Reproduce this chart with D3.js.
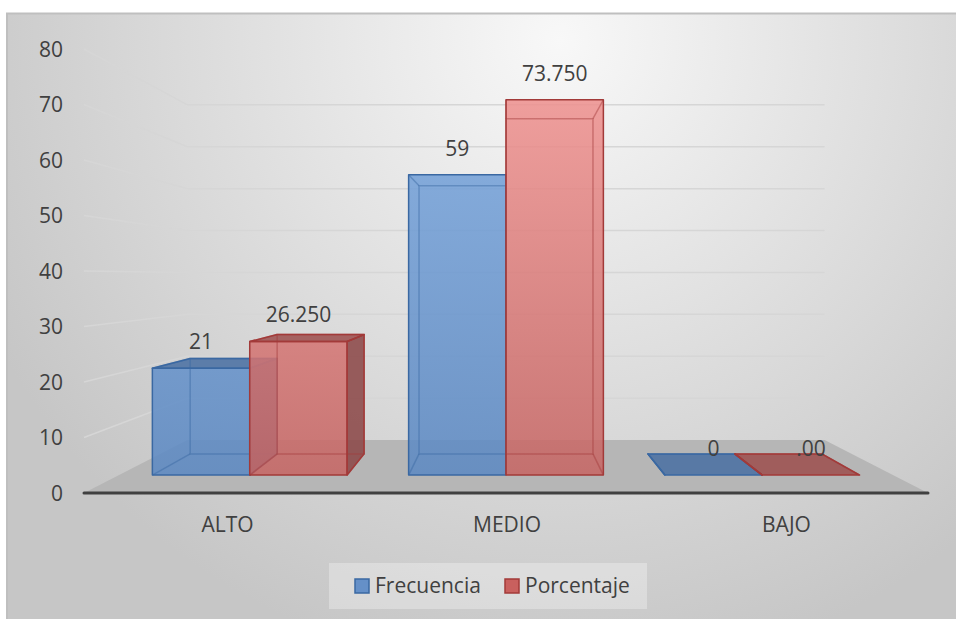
<!DOCTYPE html>
<html>
<head>
<meta charset="utf-8">
<script src="https://cdn.jsdelivr.net/npm/d3@7"></script>
<style>
  html, body { margin: 0; background: #fff; overflow: hidden; }
  svg { display: block; }
  text { font-family: "Open Sans", sans-serif; fill: #404040; }
</style>
</head>
<body>
<div class="chart3d"></div>
<script>
const categories = ["ALTO", "MEDIO", "BAJO"];
const seriesNames = ["Frecuencia", "Porcentaje"];
const frecuencia = [21, 59, 0];
const porcentaje = [26.25, 73.75, 0];
const frecuenciaLabels = ["21", "59", "0"];
const porcentajeLabels = ["26.250", "73.750", ".00"];
const yTicks = [0, 10, 20, 30, 40, 50, 60, 70, 80];

const width = 956, height = 619;
const vp = {x: 506, y: 277}; // vanishing point of the perspective

const svg = d3.select(".chart3d").append("svg")
    .attr("width", width)
    .attr("height", height);

const defs = svg.append("defs");
const bg = defs.append("radialGradient").attr("id", "bg")
    .attr("gradientUnits", "userSpaceOnUse")
    .attr("cx", 560).attr("cy", 40).attr("r", 640);
bg.append("stop").attr("offset", 0).attr("stop-color", "#f8f8f8");
bg.append("stop").attr("offset", 1).attr("stop-color", "#c6c6c6");

const grads = [
    {id: "gBlue", top: "#7ba8df", bottom: "#5a87c1"},
    {id: "gRed", top: "#f29593", bottom: "#c46361"}
];
grads.forEach(g => {
    const lg = defs.append("linearGradient").attr("id", g.id)
        .attr("gradientUnits", "userSpaceOnUse")
        .attr("x1", 0).attr("x2", 0).attr("y1", 60).attr("y2", 493);
    lg.append("stop").attr("offset", 0).attr("stop-color", g.top);
    lg.append("stop").attr("offset", 1).attr("stop-color", g.bottom);
});

const styles = [
    {front: "url(#gBlue)", top: "#486fa2", side: "#3f6494", edge: "#3a68a2"},
    {front: "url(#gRed)", top: "#9c4e4d", side: "#8a4646", edge: "#a23a39"}
];

svg.append("rect")
    .attr("x", 7).attr("y", 13.5)
    .attr("width", 980).attr("height", 640)
    .attr("fill", "url(#bg)")
    .attr("stroke", "#bfbfbf").attr("stroke-width", 2);

// scales on the front plane
const y = d3.scaleLinear().domain([0, 80]).range([493, 49]);
const x0 = d3.scaleBand().domain(categories).range([84, 928])
    .paddingInner(0.24).paddingOuter(0.13);
const x1 = d3.scaleBand().domain(seriesNames).range([0, x0.bandwidth()]);
const depth = d3.scaleLinear().domain([0, 1]).range([1, 0.755]);

const proj = (X, Y, z) => {
    const s = depth(z);
    return [vp.x + (X - vp.x) * s, vp.y + (Y - vp.y) * s];
};
const line = d3.line();

// floor
const [fx0, fx1] = x0.range();
svg.append("path")
    .attr("d", line([proj(fx0, y(0), 0), proj(fx1, y(0), 0), proj(fx1, y(0), 1), proj(fx0, y(0), 1)]) + "Z")
    .attr("fill", "#b6b6b6");

// gridlines: side wall then back wall
const grid = svg.append("g").attr("fill", "none")
    .attr("stroke", "#d6d6d6").attr("stroke-width", 1.5);
yTicks.filter(t => t > 0).forEach(t => {
    grid.append("path").attr("d", line([proj(fx0, y(t), 0), proj(fx0, y(t), 1), proj(fx1, y(t), 1)]));
});

// axis line
svg.append("line")
    .attr("x1", fx0).attr("x2", fx1)
    .attr("y1", y(0)).attr("y2", y(0))
    .attr("stroke", "#404040").attr("stroke-width", 3)
    .attr("stroke-linecap", "round");

// y tick labels
svg.append("g").selectAll("text").data(yTicks).enter().append("text")
    .attr("x", 63).attr("y", d => y(d) + 2)
    .attr("text-anchor", "end").attr("dominant-baseline", "middle")
    .style("font-size", "21px")
    .text(d => d);

// category labels
svg.append("g").selectAll("text").data(categories).enter().append("text")
    .attr("x", d => x0(d) + x0.bandwidth() / 2 + 1)
    .attr("y", 526)
    .attr("text-anchor", "middle").attr("dominant-baseline", "middle")
    .style("font-size", "21px")
    .text(d => d);

// bars
const zF = 0.339, zB = 0.739;
const bars = [];
categories.forEach((c, i) => {
    [frecuencia[i], porcentaje[i]].forEach((v, k) => {
        bars.push({cat: c, series: seriesNames[k], k: k, v: v,
            label: k === 0 ? frecuenciaLabels[i] : porcentajeLabels[i]});
    });
});

const barG = svg.append("g");
bars.forEach(b => {
    const X0 = x0(b.cat) + x1(b.series), X1 = X0 + x1.bandwidth();
    const Y0 = y(0), Y1 = y(b.v);
    const st = styles[b.k];
    const P = (X, Y, z) => proj(X, Y, z);
    const front = [P(X0, Y1, zF), P(X1, Y1, zF), P(X1, Y0, zF), P(X0, Y0, zF)];
    const back = [P(X0, Y1, zB), P(X1, Y1, zB), P(X1, Y0, zB), P(X0, Y0, zB)];
    const top = [front[0], front[1], back[1], back[0]];
    const right = [front[1], back[1], back[2], front[2]];
    const left = [front[0], back[0], back[3], front[3]];
    const g = barG.append("g");
    const faces = [];
    if (Y1 > vp.y) faces.push({pts: top, fill: st.top});
    if (X1 < vp.x) faces.push({pts: right, fill: st.side});
    if (X0 > vp.x) faces.push({pts: left, fill: st.side});
    if (b.v > 0) faces.push({pts: front, fill: st.front});
    faces.forEach(f => g.append("path")
        .attr("d", line(f.pts) + "Z")
        .attr("fill", f.fill).attr("fill-opacity", 0.86));
    // edges seen through the glass
    const edges = [back, [front[0], back[0]], [front[1], back[1]], [front[2], back[2]], [front[3], back[3]]];
    edges.forEach((e, j) => g.append("path")
        .attr("d", line(e) + (j === 0 ? "Z" : ""))
        .attr("fill", "none").attr("stroke", st.edge)
        .attr("stroke-opacity", 0.45).attr("stroke-width", 1.5));
    faces.forEach(f => g.append("path")
        .attr("d", line(f.pts) + "Z")
        .attr("fill", "none").attr("stroke", st.edge)
        .attr("stroke-width", 1.5).attr("stroke-linejoin", "round"));
    b.lx = (front[0][0] + front[1][0]) / 2;
    b.topMid = (front[0][1] + back[0][1]) / 2;
});

// data labels
svg.append("g").selectAll("text").data(bars).enter().append("text")
    .attr("x", d => d.lx)
    .attr("y", d => d.topMid - (14.5 + 0.26 * d.v))
    .attr("text-anchor", "middle").attr("dominant-baseline", "middle")
    .style("font-size", "21px")
    .text(d => d.label);

// legend
const legend = svg.append("g");
legend.append("rect")
    .attr("x", 329).attr("y", 563).attr("width", 318).attr("height", 46)
    .attr("fill", "#ffffff").attr("fill-opacity", 0.3);
const legX = [355, 505];
seriesNames.forEach((s, k) => {
    legend.append("rect")
        .attr("x", legX[k]).attr("y", 579).attr("width", 14).attr("height", 14)
        .attr("fill", k === 0 ? "#6590c8" : "#c9605e")
        .attr("stroke", styles[k].edge).attr("stroke-width", 1.5);
    legend.append("text")
        .attr("x", legX[k] + 20).attr("y", 587)
        .attr("dominant-baseline", "middle")
        .style("font-size", "21px")
        .text(s);
});
</script>
</body>
</html>
